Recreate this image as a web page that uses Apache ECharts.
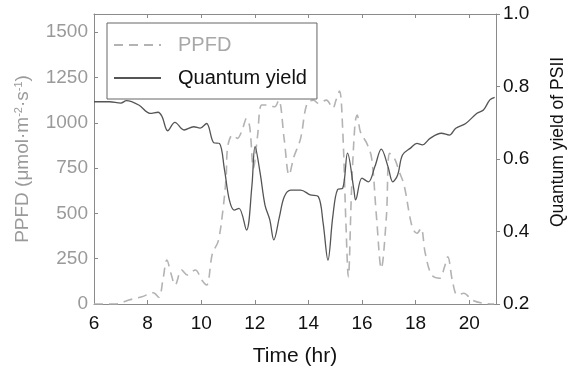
<!DOCTYPE html>
<html>
<head>
<meta charset="utf-8">
<script src="https://cdn.jsdelivr.net/npm/echarts@6/dist/echarts.min.js"></script>
<style>
  html, body { margin: 0; padding: 0; background: #fff; }
  #chart { width: 575px; height: 372px; }
</style>
</head>
<body>
<div id="chart"></div>
<script>
// values
const ppfdTime = [6.00, 6.82, 7.30, 7.79, 8.21, 8.42, 8.57, 8.72, 8.87, 9.03, 9.27, 9.48, 9.78, 10.02, 10.20,
  10.42, 10.63, 10.81, 10.93, 10.99, 11.17, 11.35, 11.53, 11.69, 11.81, 11.95, 12.10, 12.26, 12.50, 12.74,
  12.89, 13.10, 13.28, 13.46, 13.71, 13.95, 14.19, 14.37, 14.67, 14.91, 15.03, 15.16, 15.28, 15.40, 15.49,
  15.61, 15.74, 15.82, 15.94, 16.18, 16.36, 16.54, 16.72, 16.91, 17.03, 17.21, 17.39, 17.57, 17.87, 18.05,
  18.20, 18.36, 18.60, 18.90, 19.08, 19.20, 19.38, 19.56, 19.80, 20.11, 20.53, 20.93];
const ppfdValues = [0, 0, 22, 40, 62, 37, 132, 243, 169, 105, 188, 160, 188, 132, 105,
  280, 344, 518, 700, 868, 932, 914, 960, 1024, 978, 749, 923, 1098, 1098, 1088,
  1125, 905, 712, 812, 914, 1107, 1125, 1107, 1125, 1080, 1125, 1175, 960, 445, 150,
  629, 997, 1042, 950, 886, 804, 482, 197, 482, 831, 804, 730, 656, 426, 390,
  418, 280, 160, 142, 206, 261, 123, 50, 59, 22, 4, 0];

const qyTime = [6.00, 6.58, 7.00, 7.21, 7.67, 8.09, 8.39, 8.54, 8.75, 9.02, 9.36, 9.72, 9.96, 10.20, 10.47,
  10.68, 10.87, 11.05, 11.23, 11.41, 11.69, 11.89, 12.01, 12.20, 12.38, 12.56, 12.71, 12.92, 13.10, 13.34,
  13.71, 14.07, 14.37, 14.55, 14.73, 14.91, 15.09, 15.28, 15.46, 15.70, 15.76, 16.00, 16.24, 16.48, 16.72,
  16.97, 17.15, 17.33, 17.51, 17.81, 18.05, 18.25, 18.54, 18.96, 19.26, 19.50, 19.87, 20.29, 20.53, 20.77, 20.95];
const qyValues = [0.758, 0.758, 0.754, 0.761, 0.749, 0.726, 0.729, 0.717, 0.678, 0.701, 0.680, 0.689, 0.685, 0.698, 0.645,
  0.643, 0.570, 0.487, 0.459, 0.464, 0.404, 0.524, 0.634, 0.561, 0.473, 0.432, 0.377, 0.441, 0.496, 0.514,
  0.514, 0.501, 0.496, 0.423, 0.321, 0.441, 0.516, 0.519, 0.616, 0.514, 0.487, 0.547, 0.537, 0.579, 0.627,
  0.579, 0.537, 0.556, 0.611, 0.630, 0.643, 0.639, 0.657, 0.671, 0.666, 0.685, 0.698, 0.726, 0.735, 0.763, 0.770];

const font = 'Liberation Sans, Arial, sans-serif';
const frame = '#8a8a8a';

const chart = echarts.init(document.getElementById('chart'));

chart.setOption({
  animation: false,
  backgroundColor: '#fff',
  grid: { left: 94, right: 67, top: 14, bottom: 68 },
  legend: {
    orient: 'vertical',
    left: 107,
    top: 23,
    padding: [12, 10, 11, 6],
    itemWidth: 47,
    itemHeight: 14,
    itemGap: 13,
    borderColor: '#666',
    borderWidth: 1,
    backgroundColor: '#fff',
    itemStyle: { opacity: 0 },
    textStyle: { fontFamily: font, fontSize: 20, padding: [0, 0, 0, 12] },
    data: [
      { name: 'PPFD', textStyle: { color: '#a8a8a8' } },
      { name: 'Quantum yield', textStyle: { color: '#111' } }
    ]
  },
  xAxis: [
    {
      type: 'value',
      min: 6, max: 21, interval: 2,
      name: 'Time (hr)',
      nameLocation: 'middle',
      nameGap: 42,
      nameTextStyle: { fontFamily: font, fontSize: 21, color: '#111' },
      axisLine: { lineStyle: { color: frame, width: 1 } },
      axisTick: { inside: true, length: 4, lineStyle: { color: frame } },
      axisLabel: { fontFamily: font, fontSize: 19, color: '#111', margin: 10, showMaxLabel: false },
      splitLine: { show: false }
    },
    {
      type: 'value',
      position: 'top',
      min: 6, max: 21, interval: 2,
      axisLine: { lineStyle: { color: frame, width: 1 } },
      axisTick: { inside: true, length: 4, lineStyle: { color: frame } },
      axisLabel: { show: false },
      splitLine: { show: false }
    }
  ],
  yAxis: [
    {
      type: 'value',
      min: 0, max: 1600, interval: 250,
      name: 'PPFD (μmol·m{sup|-2}·s{sup|-1})',
      nameLocation: 'middle',
      nameGap: 62,
      nameRotate: 90,
      nameTextStyle: {
        fontFamily: font, fontSize: 19, color: '#9a9a9a',
        rich: { sup: { fontSize: 11, verticalAlign: 'top', color: '#9a9a9a', padding: [0, 0, 8, 0] } }
      },
      axisLine: { show: true, lineStyle: { color: frame, width: 1 } },
      axisTick: { show: true, inside: true, length: 4, lineStyle: { color: frame } },
      axisLabel: {
        fontFamily: font, fontSize: 19, color: '#9a9a9a', margin: 6, showMaxLabel: false,
        formatter: v => String(v)
      },
      splitLine: { show: false }
    },
    {
      type: 'value',
      position: 'right',
      min: 0.2, max: 1.0, interval: 0.2,
      name: 'Quantum yield of PSII',
      nameLocation: 'middle',
      nameGap: 53,
      nameRotate: 90,
      nameTextStyle: { fontFamily: font, fontSize: 17.5, color: '#111', padding: [0, 0, 0, 34] },
      axisLine: { show: true, lineStyle: { color: frame, width: 1 } },
      axisTick: { show: true, inside: false, length: 4, lineStyle: { color: frame } },
      axisLabel: { fontFamily: font, fontSize: 19, color: '#111', margin: 7, formatter: v => v.toFixed(1) },
      splitLine: { show: false }
    }
  ],
  series: [
    {
      name: 'PPFD',
      type: 'line',
      yAxisIndex: 0,
      symbol: 'none',
      smooth: 0.35,
      lineStyle: { color: '#b3b3b3', width: 1.6, type: [9, 6] },
      itemStyle: { color: '#b3b3b3' },
      data: ppfdTime.map((t, i) => [t, ppfdValues[i]])
    },
    {
      name: 'Quantum yield',
      type: 'line',
      yAxisIndex: 1,
      symbol: 'none',
      smooth: 0.35,
      lineStyle: { color: '#555', width: 1.3 },
      itemStyle: { color: '#555' },
      data: qyTime.map((t, i) => [t, qyValues[i]])
    }
  ]
});
</script>
</body>
</html>
